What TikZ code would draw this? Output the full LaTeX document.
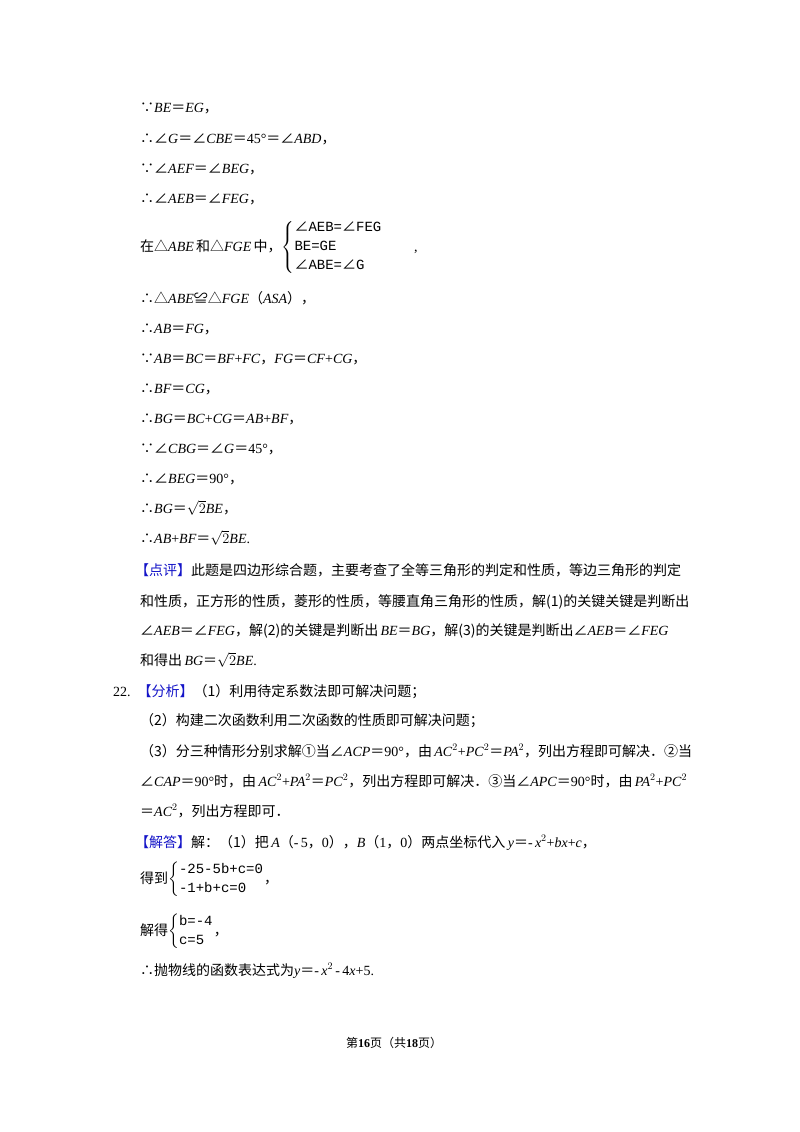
\documentclass[tikz,border=0pt]{standalone}
\usepackage{fontspec}
\usepackage{amsmath}
\setmainfont{Liberation Serif}
\newfontfamily\cjk{Noto Sans CJK SC}
\newfontfamily\mono{Liberation Mono}
\definecolor{tagblue}{RGB}{20,20,200}
\newcommand{\C}[1]{{\cjk #1}}
\newcommand{\I}[1]{\textit{#1}}
\newcommand{\E}{{\cjk ＝}}
\newcommand{\A}{{\cjk ∠}}
\newcommand{\tg}[1]{{\cjk\color{tagblue}#1}}
\begin{document}
\begin{tikzpicture}[x=1pt,y=-1pt,txt/.style={anchor=base west,inner sep=0pt,font=\fontsize{14}{16}\selectfont}]
\useasboundingbox (0,0) rectangle (800,1132);
\fill[white] (0,0) rectangle (800,1132);
\node[txt] (l1) at (140,112) {\C{∵}\I{BE}\E\I{EG}\C{，}};
\node[txt] (l2) at (140,143) {\C{∴∠}\I{G}\E\A\I{CBE}\E45°\E\A\I{ABD}\C{，}};
\node[txt] (l3) at (140,173) {\C{∵∠}\I{AEF}\E\A\I{BEG}\C{，}};
\node[txt] (l4) at (140,203) {\C{∴∠}\I{AEB}\E\A\I{FEG}\C{，}};
\node[txt] (l5) at (140,251) {\C{在△}\I{ABE}\,\C{和△}\I{FGE}\,\C{中，}$\left\{\begin{array}{@{}l@{}}\text{\mono\A AEB=\A FEG}\\[3pt]\text{\mono BE=GE}\\[3pt]\text{\mono\A ABE=\A G}\end{array}\right.$\qquad\ ,};
\node[txt] (l6) at (140,303) {\C{∴△}\I{ABE}\C{≌△}\I{FGE}\C{（}\I{ASA}\C{），}};
\node[txt] (l7) at (140,333) {\C{∴}\I{AB}\E\I{FG}\C{，}};
\node[txt] (l8) at (140,363) {\C{∵}\I{AB}\E\I{BC}\E\I{BF}+\I{FC}\C{，}\I{FG}\E\I{CF}+\I{CG}\C{，}};
\node[txt] (l9) at (140,393) {\C{∴}\I{BF}\E\I{CG}\C{，}};
\node[txt] (l10) at (140,423) {\C{∴}\I{BG}\E\I{BC}+\I{CG}\E\I{AB}+\I{BF}\C{，}};
\node[txt] (l11) at (140,453) {\C{∵∠}\I{CBG}\E\A\I{G}\E45°\C{，}};
\node[txt] (l12) at (140,483) {\C{∴∠}\I{BEG}\E90°\C{，}};
\node[txt] (l13) at (140,513) {\C{∴}\I{BG}\E$\sqrt{2}$\I{BE}\C{，}};
\node[txt] (l14) at (140,543) {\C{∴}\I{AB}+\I{BF}\E$\sqrt{2}$\I{BE}.};
\node[txt] (l15) at (135,575) {\tg{【点评】}\C{此题是四边形综合题，主要考查了全等三角形的判定和性质，等边三角形的判定}};
\node[txt] (l16) at (140,606) {\C{和性质，正方形的性质，菱形的性质，等腰直角三角形的性质，解(1)的关键关键是判断出}};
\node[txt] (l17) at (140,635) {\A\I{AEB}\E\A\I{FEG}\C{，解(2)的关键是判断出}\,\I{BE}\E\I{BG}\C{，解(3)的关键是判断出∠}\I{AEB}\E\A\I{FEG}};
\node[txt] (l18) at (140,665) {\C{和得出}\,\I{BG}\E$\sqrt{2}$\I{BE}.};
\node[txt] (l19) at (113,696) {22.\ \ \tg{【分析】}\C{（1）利用待定系数法即可解决问题；}};
\node[txt] (l20) at (140,725) {\C{（2）构建二次函数利用二次函数的性质即可解决问题；}};
\node[txt] (l21) at (140,756) {\C{（3）分三种情形分别求解①当∠}\I{ACP}\E90°\C{，由}\,\I{AC}$^2$+\I{PC}$^2$\E\I{PA}$^2$\C{，列出方程即可解决．②当}};
\node[txt] (l22) at (140,786) {\A\I{CAP}\E90°\C{时，由}\,\I{AC}$^2$+\I{PA}$^2$\E\I{PC}$^2$\C{，列出方程即可解决．③当∠}\I{APC}\E90°\C{时，由}\,\I{PA}$^2$+\I{PC}$^2$};
\node[txt] (l23) at (140,816) {\E\I{AC}$^2$\C{，列出方程即可．}};
\node[txt] (l24) at (135,847) {\tg{【解答】}\C{解：（1）把}\,\I{A}\C{（}-\,5\C{，}0\C{）}\C{，}\I{B}\C{（}1\C{，}0\C{）}\C{两点坐标代入}\,\I{y}\E-\,\I{x}$^2$+\I{bx}+\I{c}\C{，}};
\node[txt] (l25) at (140,883) {\C{得到}$\left\{\begin{array}{@{}l@{}}\text{\mono -25-5b+c=0}\\[3pt]\text{\mono -1+b+c=0}\end{array}\right.$\C{，}};
\node[txt] (l26) at (140,935) {\C{解得}$\left\{\begin{array}{@{}l@{}}\text{\mono b=-4}\\[3pt]\text{\mono c=5}\end{array}\right.$\C{，}};
\node[txt] (l27) at (140,975) {\C{∴抛物线的函数表达式为}\I{y}\E-\,\I{x}$^2$\,-\,4\I{x}+5.};
\node[txt,font=\fontsize{12}{14}\selectfont] (ft) at (346,1047) {\C{第}\textbf{16}\C{页（共}\textbf{18}\C{页）}};
\end{tikzpicture}
\end{document}
